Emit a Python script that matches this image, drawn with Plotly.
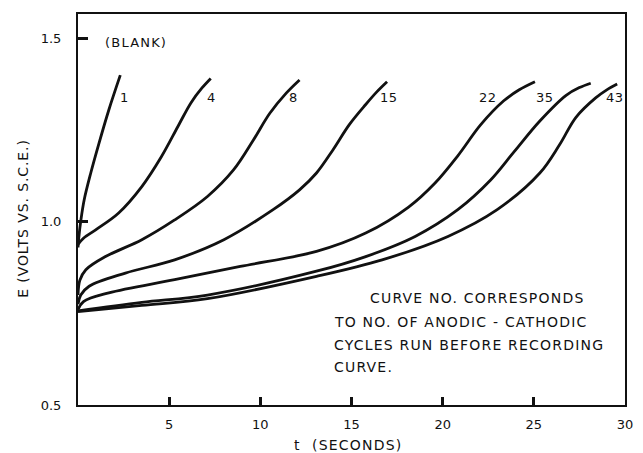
import plotly.graph_objects as go

# Potential-time curves, E (V vs. S.C.E.) against t (s), one per cycle count
curve_names = ["1", "4", "8", "15", "22", "35", "43"]

t1 = [0, 0.04, 0.16, 0.34, 0.70, 1.15, 1.69, 2.32]
e1 = [0.93, 0.955, 1.005, 1.06, 1.133, 1.214, 1.305, 1.40]

t4 = [0, 0.3, 0.97, 2.23, 3.5, 4.58, 5.48, 6.2, 6.8, 7.28]
e4 = [0.938, 0.955, 0.978, 1.024, 1.096, 1.178, 1.26, 1.325, 1.365, 1.391]

t8 = [0, 0.1, 0.43, 1.51, 3.5, 5.3, 7.1, 8.54, 9.62, 10.52, 11.42, 12.15]
e8 = [0.80, 0.84, 0.869, 0.905, 0.951, 1.005, 1.069, 1.142, 1.223, 1.296, 1.351, 1.387]

t15 = [0, 0.15, 0.61, 2.6, 5.3, 8.0, 10.7, 12.15, 13.08, 13.98, 14.88, 15.78, 16.4, 16.95]
e15 = [0.775, 0.80, 0.824, 0.86, 0.896, 0.951, 1.033, 1.087, 1.133, 1.196, 1.265, 1.32, 1.355, 1.382]

t22 = [0, 0.3, 1.69, 5.3, 8.9, 13.08, 15.78, 18.13, 19.57, 20.83, 22.09, 23.35, 24.2, 25.06]
e22 = [0.76, 0.782, 0.806, 0.842, 0.878, 0.919, 0.969, 1.04, 1.105, 1.18, 1.265, 1.33, 1.36, 1.382]

t35 = [0, 3.5, 7.1, 13.08, 15.78, 18.49, 20.83, 22.63, 23.9, 25.33, 26.77, 27.5, 28.12]
e35 = [0.757, 0.78, 0.80, 0.865, 0.905, 0.96, 1.033, 1.114, 1.19, 1.275, 1.345, 1.366, 1.378]

t43 = [0, 3.5, 7.1, 13.08, 16.68, 20.29, 22.99, 25.33, 26.41, 27.31, 28.39, 29.0, 29.57]
e43 = [0.755, 0.772, 0.79, 0.851, 0.896, 0.96, 1.033, 1.133, 1.21, 1.285, 1.338, 1.36, 1.376]

# Curve-number label positions (t, E)
label_t = [2.55, 7.32, 11.82, 17.05, 22.5, 25.6, 29.45]
label_e = [1.338, 1.338, 1.338, 1.338, 1.338, 1.338, 1.338]

x_ticks = [5, 10, 15, 20, 25, 30]
y_ticks = [0.5, 1.0, 1.5]
y_tick_text = ["0.5", "1.0", "1.5"]

note_lines = [
    "CURVE NO. CORRESPONDS",
    "TO NO. OF ANODIC - CATHODIC",
    "CYCLES RUN BEFORE RECORDING",
    "CURVE.",
]
note_t = [15.89, 13.95, 13.95, 13.95]
note_e = [0.793, 0.7275, 0.665, 0.605]

FONT = "DejaVu Sans"
INK = "#111111"

# plot-area geometry in pixels
W, H = 643, 453
ML, MR, MT, MB = 78, 10, 14, 48
PW, PH = W - ML - MR, H - MT - MB
Y_TOP = 0.5 + PH / 366.5


def spaced(text, ls=1.2):
    return f'<span style="letter-spacing:{ls}px">{text}</span>'


series_t = [t1, t4, t8, t15, t22, t35, t43]
series_e = [e1, e4, e8, e15, e22, e35, e43]

fig = go.Figure()
for name, ts, es in zip(curve_names, series_t, series_e):
    fig.add_trace(go.Scatter(
        x=ts, y=es, mode="lines", name=name,
        line=dict(color=INK, width=2.8, shape="spline", smoothing=1.0),
        showlegend=False, hoverinfo="skip",
    ))

annotations = []
for name, lx, ly in zip(curve_names, label_t, label_e):
    annotations.append(dict(
        x=lx, y=ly, xref="x", yref="y", text=spaced(name, 0.5), showarrow=False,
        font=dict(family=FONT, size=13, color=INK),
    ))

annotations.append(dict(
    x=3.2, y=1.49, xref="x", yref="y", text=spaced("(BLANK)", 1.2), showarrow=False,
    font=dict(family=FONT, size=13, color=INK),
))

for txt, nx, ny in zip(note_lines, note_t, note_e):
    annotations.append(dict(
        x=nx, y=ny, xref="x", yref="y", text=spaced(txt, 1.2), showarrow=False,
        xanchor="left", yanchor="middle", font=dict(family=FONT, size=14, color=INK),
    ))

# Axis titles
annotations.append(dict(
    x=(352 - ML) / PW, y=(H - MB - 445) / PH, xref="paper", yref="paper",
    text=spaced("t  (SECONDS)", 1.2), showarrow=False,
    xanchor="center", yanchor="middle", font=dict(family=FONT, size=14, color=INK),
))
annotations.append(dict(
    x=-(ML - 22) / PW, y=(H - MB - 218) / PH, xref="paper", yref="paper",
    text=spaced("E (VOLTS VS. S.C.E.)", 0.9), showarrow=False, textangle=-90,
    xanchor="center", yanchor="middle", font=dict(family=FONT, size=14, color=INK),
))

fig.update_layout(
    width=W, height=H,
    margin=dict(l=ML, r=MR, t=MT, b=MB),
    paper_bgcolor="white", plot_bgcolor="white",
    font=dict(family=FONT, size=13, color=INK),
    annotations=annotations,
)

fig.update_xaxes(
    range=[0, 30], tickvals=x_ticks, ticktext=[str(v) for v in x_ticks],
    ticks="inside", ticklen=8, tickwidth=2.5, tickcolor=INK,
    showline=True, linecolor=INK, linewidth=2, mirror=True,
    showgrid=False, zeroline=False, ticklabelstandoff=6,
    tickfont=dict(family=FONT, size=13, color=INK),
)
fig.update_yaxes(
    range=[0.5, Y_TOP], tickvals=y_ticks, ticktext=y_tick_text,
    ticks="inside", ticklen=10, tickwidth=2.5, tickcolor=INK,
    showline=True, linecolor=INK, linewidth=2, mirror=True,
    showgrid=False, zeroline=False, ticklabelstandoff=12,
    tickfont=dict(family=FONT, size=13, color=INK),
)

fig.write_html("out.html")
